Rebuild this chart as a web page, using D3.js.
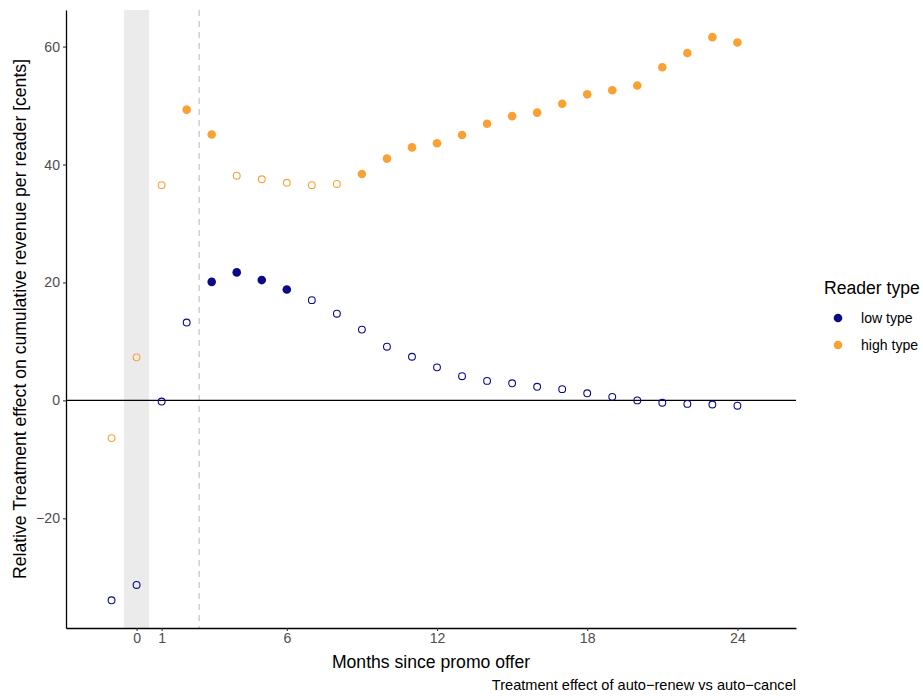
<!DOCTYPE html>
<html>
<head>
<meta charset="utf-8">
<script src="https://cdn.jsdelivr.net/npm/d3@7"></script>
<style>
  body { margin: 0; background: #fff; }
  svg text { font-family: "Liberation Sans", Arial, sans-serif; }
</style>
</head>
<body>
<svg id="chart" width="923" height="696"></svg>
<script>
// months since promo offer
const months = [-1, 0, 1, 2, 3, 4, 5, 6, 7, 8, 9, 10, 11, 12,
    13, 14, 15, 16, 17, 18, 19, 20, 21, 22, 23, 24];

// relative treatment effect, cents
const lowType = [-33.9, -31.3, -0.2, 13.2, 20.1, 21.7, 20.4, 18.8, 17.0, 14.7,
    12.0, 9.1, 7.4, 5.6, 4.1, 3.3, 2.9, 2.3, 1.9, 1.2, 0.6, 0.0, -0.4, -0.6,
    -0.7, -0.9];
const highType = [-6.4, 7.3, 36.5, 49.3, 45.1, 38.1, 37.5, 36.9, 36.5, 36.7,
    38.4, 41.0, 42.9, 43.6, 45.0, 46.9, 48.2, 48.8, 50.3, 51.9, 52.6, 53.4,
    56.5, 58.9, 61.6, 60.7];

// 1 = significant (filled), 0 = not (hollow)
const lowSig = [0, 0, 0, 0, 1, 1, 1, 1, 0, 0, 0, 0, 0, 0, 0, 0, 0, 0, 0, 0,
    0, 0, 0, 0, 0, 0];
const highSig = [0, 0, 0, 1, 1, 0, 0, 0, 0, 0, 1, 1, 1, 1, 1, 1, 1, 1, 1, 1,
    1, 1, 1, 1, 1, 1];

const xTicks = [0, 1, 6, 12, 18, 24];
const yTicks = [-20, 0, 20, 40, 60];
const seriesNames = ["low type", "high type"];
const colours = ["#0a0a88", "#f9a234"];

const svg = d3.select("#chart");
const m = {left: 66, right: 127, top: 10, bottom: 68};
const w = 923 - m.left - m.right;
const h = 696 - m.top - m.bottom;

const x = d3.scaleLinear().domain([-2.82, 26.34]).range([0, w]);
const y = d3.scaleLinear().domain([-38.6, 66.2]).range([h, 0]);

const g = svg.append("g").attr("transform", `translate(${m.left},${m.top})`);

// pre-period shading and cut-off line
g.append("rect")
    .attr("x", x(-0.5))
    .attr("width", x(0.5) - x(-0.5))
    .attr("y", 0)
    .attr("height", h)
    .attr("fill", "#ebebeb");

g.append("line")
    .attr("x1", x(2.5)).attr("x2", x(2.5))
    .attr("y1", 0).attr("y2", h)
    .attr("stroke", "#cccccc")
    .attr("stroke-width", 1.4)
    .attr("stroke-dasharray", "6,5");

g.append("line")
    .attr("x1", 0).attr("x2", w)
    .attr("y1", y(0)).attr("y2", y(0))
    .attr("stroke", "#000")
    .attr("stroke-width", 1.3);

const minus = (v) => (v < 0 ? "\u2212" + Math.abs(v) : String(v));

const xAxis = g.append("g")
    .attr("transform", `translate(0,${h})`)
    .call(d3.axisBottom(x).tickValues(xTicks).tickSizeInner(3)
        .tickSizeOuter(0).tickPadding(2).tickFormat(minus));
const yAxis = g.append("g")
    .call(d3.axisLeft(y).tickValues(yTicks).tickSizeInner(3)
        .tickSizeOuter(0).tickPadding(3).tickFormat(minus));

[xAxis, yAxis].forEach((ax) => {
    ax.select(".domain").attr("stroke", "#000").attr("stroke-width", 1.3);
    ax.selectAll(".tick line").attr("stroke", "#333").attr("stroke-width", 1.1);
    ax.selectAll(".tick text")
        .attr("fill", "#4d4d4d")
        .attr("font-size", "14.1px");
});

const series = [
    {name: seriesNames[0], vals: lowType, sig: lowSig, col: colours[0]},
    {name: seriesNames[1], vals: highType, sig: highSig, col: colours[1]}
];

series.forEach((s) => {
    const pts = months.map((mo, i) => ({mo, v: s.vals[i], sig: s.sig[i]}));
    g.append("g").selectAll("circle")
        .data(pts)
        .join("circle")
        .attr("cx", (d) => x(d.mo))
        .attr("cy", (d) => y(d.v))
        .attr("r", (d) => (d.sig ? 4.3 : 3.4))
        .attr("fill", (d) => (d.sig ? s.col : "none"))
        .attr("stroke", s.col)
        .attr("stroke-width", (d) => (d.sig ? 0 : 1.1));
});

// axis titles
svg.append("text")
    .attr("x", m.left + w / 2)
    .attr("y", 668)
    .attr("text-anchor", "middle")
    .attr("font-size", "17.6px")
    .text("Months since promo offer");

svg.append("text")
    .attr("transform", `translate(26,${m.top + h / 2}) rotate(-90)`)
    .attr("text-anchor", "middle")
    .attr("font-size", "17.6px")
    .text("Relative Treatment effect on cumulative revenue per reader [cents]");

svg.append("text")
    .attr("x", m.left + w)
    .attr("y", 690)
    .attr("text-anchor", "end")
    .attr("font-size", "14.6px")
    .text("Treatment effect of auto\u2212renew vs auto\u2212cancel");

// legend
const leg = svg.append("g").attr("transform", "translate(824,0)");
leg.append("text")
    .attr("x", 0)
    .attr("y", 294)
    .attr("font-size", "17.6px")
    .text("Reader type");
series.forEach((s, i) => {
    leg.append("circle")
        .attr("cx", 14)
        .attr("cy", 318 + i * 27)
        .attr("r", 4.3)
        .attr("fill", s.col);
    leg.append("text")
        .attr("x", 37)
        .attr("y", 323 + i * 27)
        .attr("font-size", "14.1px")
        .text(s.name);
});
</script>
</body>
</html>
